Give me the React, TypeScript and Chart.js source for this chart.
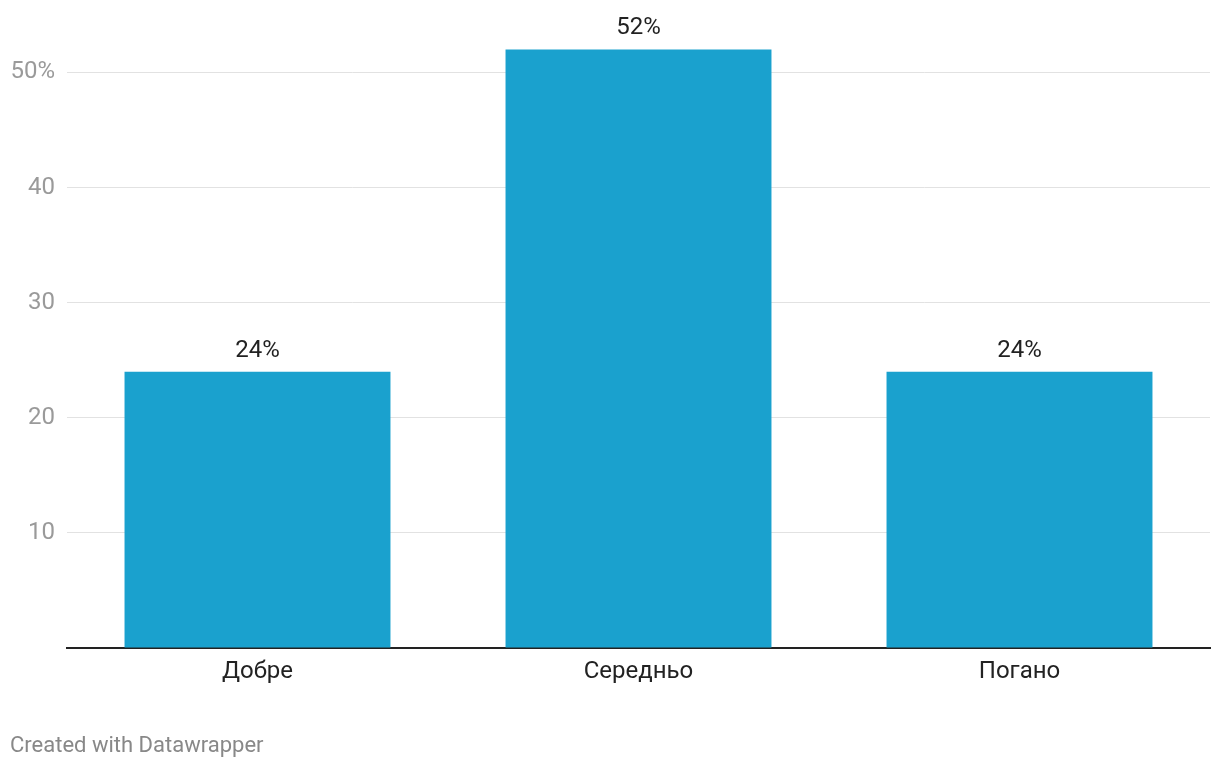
import React, { useEffect, useRef } from "react";
import { Chart, registerables } from "chart.js";

Chart.register(...registerables);

const categories = ["Добре", "Середньо", "Погано"];
const values = [24, 52, 24];
const yTicks = [0, 10, 20, 30, 40, 50];
const yMax = 54;
const footerText = "Created with Datawrapper";

const FONT = "Roboto, 'Noto Sans', sans-serif";

const valueLabels = {
  id: "valueLabels",
  afterDatasetsDraw(chart: any) {
    const ctx = chart.ctx;
    const meta = chart.getDatasetMeta(0);
    ctx.save();
    ctx.font = `24px ${FONT}`;
    ctx.fillStyle = "#222";
    ctx.textAlign = "center";
    ctx.textBaseline = "alphabetic";
    meta.data.forEach((bar: any, i: number) => {
      ctx.fillText(values[i] + "%", bar.x, bar.y - 15);
    });
    ctx.restore();
  },
};

export default function App() {
  const ref = useRef<HTMLCanvasElement>(null);
  useEffect(() => {
    if (!ref.current) return;
    const chart = new Chart(ref.current, {
      type: "bar",
      data: {
        labels: categories,
        datasets: [
          {
            data: values,
            backgroundColor: "#1aa1ce",
            barPercentage: 0.698,
            categoryPercentage: 1,
          },
        ],
      },
      options: {
        animation: false,
        responsive: false,
        maintainAspectRatio: false,
        layout: { padding: { top: 0, right: 10, bottom: 70, left: 0 } },
        plugins: { legend: { display: false }, tooltip: { enabled: false } },
        scales: {
          x: {
            grid: { display: false, drawTicks: false },
            border: { display: true, color: "#222", width: 2 },
            ticks: {
              color: "#222",
              font: { family: FONT, size: 24 },
              padding: 10,
            },
            afterFit: (s: any) => {
              s.height = 50;
            },
          },
          y: {
            min: 0,
            max: yMax,
            border: { display: false },
            grid: {
              drawTicks: false,
              color: (c: any) => (c.tick && c.tick.value === 0 ? "rgba(0,0,0,0)" : "#e2e2e2"),
              lineWidth: 1,
            },
            afterBuildTicks: (s: any) => {
              s.ticks = yTicks.map((v) => ({ value: v }));
            },
            ticks: {
              color: "#9a9a9a",
              font: { family: FONT, size: 24 },
              padding: 12,
              callback: (v: any) => (v === 0 ? "" : v === 50 ? v + "%" : String(v)),
            },
            afterFit: (s: any) => {
              s.width = 67;
            },
          },
        },
      },
      plugins: [valueLabels],
    });
    return () => chart.destroy();
  }, []);
  return (
    <div style={{ position: "absolute", left: 0, top: 0, width: 1220, height: 768, background: "#fff" }}>
      <canvas ref={ref} width={1220} height={768} style={{ display: "block" }} />
      <div
        style={{
          position: "absolute",
          left: 10,
          top: 733,
          fontFamily: FONT,
          fontSize: 22,
          color: "#888",
          lineHeight: "24px",
        }}
      >
        {footerText}
      </div>
    </div>
  );
}
